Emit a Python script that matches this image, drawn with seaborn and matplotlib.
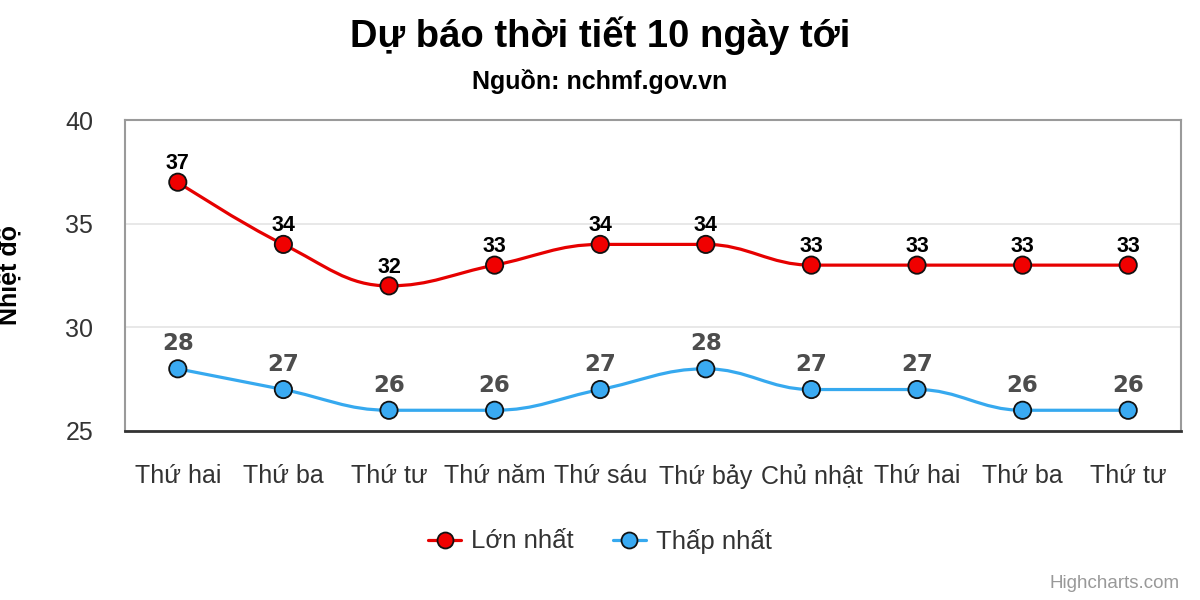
import matplotlib
matplotlib.use("Agg")
import matplotlib.pyplot as plt
from matplotlib.path import Path
from matplotlib.patches import PathPatch
from matplotlib.lines import Line2D
import seaborn as sns
import pandas as pd
import numpy as np

days = ["Thứ hai", "Thứ ba", "Thứ tư", "Thứ năm", "Thứ sáu", "Thứ bảy",
        "Chủ nhật", "Thứ hai", "Thứ ba", "Thứ tư"]
max_temp = [37, 34, 32, 33, 34, 34, 33, 33, 33, 33]
min_temp = [28, 27, 26, 26, 27, 28, 27, 27, 26, 26]
series_names = ["Lớn nhất", "Thấp nhất"]
y_ticks = [25, 30, 35, 40]

title = "Dự báo thời tiết 10 ngày tới"
subtitle = "Nguồn: nchmf.gov.vn"
y_label = "Nhiệt độ"
credit = "Highcharts.com"

RED = "#e60000"
RED_MARK = "#f00000"
BLUE = "#36a9ef"
BLUE_MARK = "#3aaaf2"

sns.set_theme(style="white")
plt.rcParams['font.family'] = ['Liberation Sans', 'DejaVu Sans']

fig = plt.figure(figsize=(12, 6), dpi=100)
ax = fig.add_axes([125/1200, 1-431/600, 1056/1200, 311/600])

xs = np.arange(len(days))
df = pd.DataFrame({
    "x": np.concatenate([xs, xs]),
    "y": max_temp + min_temp,
    "series": [series_names[0]]*len(days) + [series_names[1]]*len(days),
})


def spline_path(xv, yv, smoothing=1.5):
    n = len(xv)
    denom = smoothing + 1
    lc = [None]*n
    rc = [None]*n
    for i in range(1, n-1):
        px, py = xv[i], yv[i]
        lx, ly = xv[i-1], yv[i-1]
        nx, ny = xv[i+1], yv[i+1]
        lcx = (smoothing*px + lx)/denom
        lcy = (smoothing*py + ly)/denom
        rcx = (smoothing*px + nx)/denom
        rcy = (smoothing*py + ny)/denom
        corr = 0
        if rcx != lcx:
            corr = (rcy - lcy)*(rcx - px)/(rcx - lcx) + py - rcy
        lcy += corr
        rcy += corr
        if lcy > ly and lcy > py:
            lcy = max(ly, py); rcy = 2*py - lcy
        elif lcy < ly and lcy < py:
            lcy = min(ly, py); rcy = 2*py - lcy
        if rcy > ny and rcy > py:
            rcy = max(ny, py); lcy = 2*py - rcy
        elif rcy < ny and rcy < py:
            rcy = min(ny, py); lcy = 2*py - rcy
        lc[i] = (lcx, lcy)
        rc[i] = (rcx, rcy)
    verts = [(xv[0], yv[0])]
    codes = [Path.MOVETO]
    for i in range(1, n):
        c1 = rc[i-1] if rc[i-1] is not None else (xv[i-1], yv[i-1])
        c2 = lc[i] if lc[i] is not None else (xv[i], yv[i])
        verts += [c1, c2, (xv[i], yv[i])]
        codes += [Path.CURVE4]*3
    return Path(verts, codes)


for vals, col in [(max_temp, RED), (min_temp, BLUE)]:
    p = spline_path(list(xs.astype(float)), list(map(float, vals)))
    ax.add_patch(PathPatch(p, facecolor="none", edgecolor=col, lw=2.3,
                           zorder=3, capstyle="round", joinstyle="round"))

sns.scatterplot(data=df, x="x", y="y", hue="series",
                palette={series_names[0]: RED_MARK, series_names[1]: BLUE_MARK},
                s=155, edgecolor="#111111", linewidth=1.3, zorder=4,
                legend=False, ax=ax)

for xi, v in zip(xs, max_temp):
    ax.annotate(str(v), (xi, v), xytext=(0, 13.5), textcoords="offset points",
                ha="center", va="center", fontsize=15.5, fontweight="bold",
                color="#000000", zorder=5)
for xi, v in zip(xs, min_temp):
    ax.annotate(str(v), (xi, v), xytext=(0, 18), textcoords="offset points",
                ha="center", va="center", fontsize=16.5, fontweight="bold",
                color="#4d4d4d", zorder=5, family=["DejaVu Sans"])

ax.set_xlim(-0.5, len(days)-0.5)
ax.set_ylim(25, 40)
ax.set_yticks(y_ticks)
ax.set_yticklabels([str(t) for t in y_ticks], fontsize=18, color="#333333")
ax.set_xticks(xs)
ax.set_xticklabels(days, fontsize=18, color="#333333")
ax.tick_params(axis="x", pad=24, length=0)
ax.tick_params(axis="y", pad=23, length=0)
ax.set_xlabel("")
ax.set_ylabel("")
ax.grid(axis="y", color="#e6e6e6", lw=1.3)
ax.grid(axis="x", visible=False)
ax.set_axisbelow(True)
for side in ["left", "top", "right"]:
    ax.spines[side].set_color("#9a9a9a")
    ax.spines[side].set_linewidth(1.5)
ax.spines["bottom"].set_color("#333333")
ax.spines["bottom"].set_linewidth(2)

fig.text(0.5, 1-36/600, title, ha="center", va="center",
         fontsize=27.5, fontweight="bold", color="#000000")
fig.text(0.5, 1-81/600, subtitle, ha="center", va="center",
         fontsize=18, fontweight="bold", color="#000000")
fig.text(10/1200, 1-275/600, y_label, ha="center", va="center", rotation=90,
         fontsize=18, fontweight="bold", color="#000000")
fig.text(1180/1200, 1-583/600, credit, ha="right", va="center",
         fontsize=13.5, color="#999999")

handles = [
    Line2D([0], [0], color=RED, lw=2.3, marker="o", markersize=11.5,
           markerfacecolor=RED_MARK, markeredgecolor="#111111", markeredgewidth=1.3),
    Line2D([0], [0], color=BLUE, lw=2.3, marker="o", markersize=11.5,
           markerfacecolor=BLUE_MARK, markeredgecolor="#111111", markeredgewidth=1.3),
]
leg = fig.legend(handles, series_names, loc="center", bbox_to_anchor=(0.5, 1-541/600),
                 ncol=2, frameon=False, fontsize=18.5, handlelength=1.3,
                 handletextpad=0.4, columnspacing=1.5, labelcolor="#333333")

fig.savefig("out.png", dpi=100)
